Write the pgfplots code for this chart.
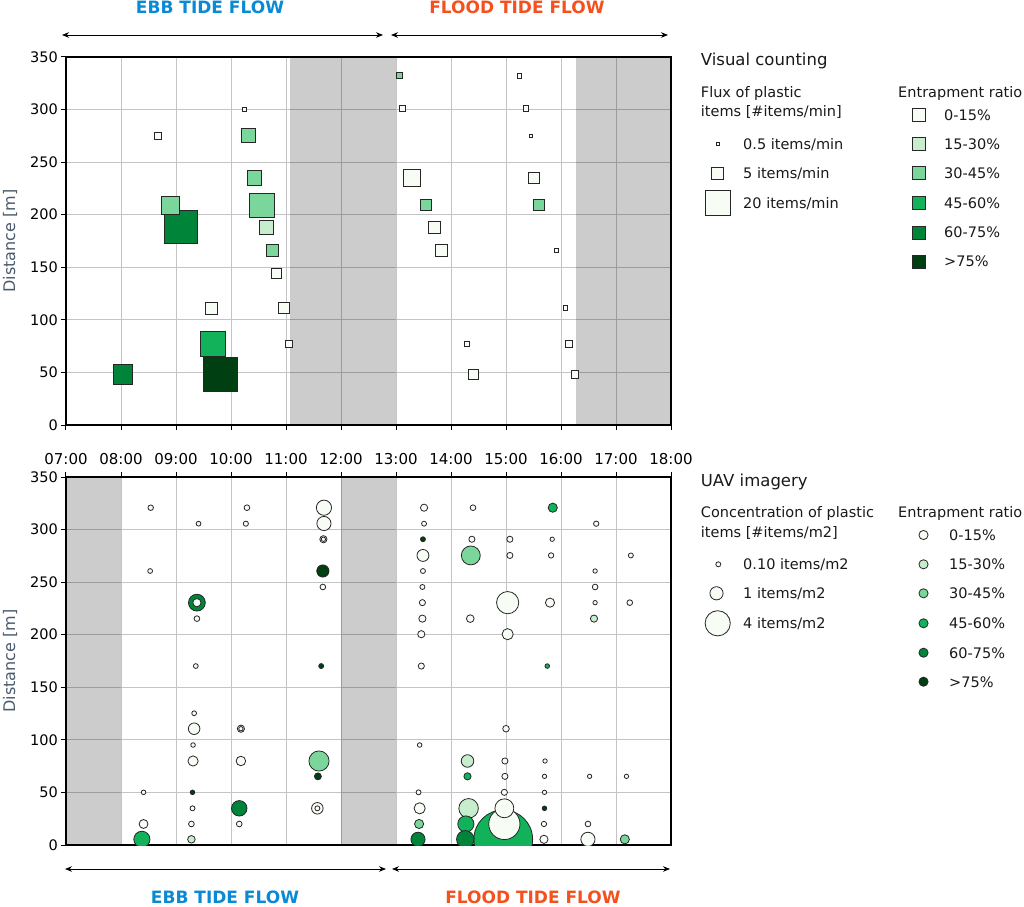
\documentclass[border=0pt]{standalone}
\usepackage{pgfplots}
\pgfplotsset{compat=1.18}
\usepackage{pgfplotstable}
\usepackage{fontspec}
\setmainfont{DejaVu Sans}
\usetikzlibrary{arrows.meta}
\definecolor{cls0}{HTML}{F7FCF5}
\definecolor{cls1}{HTML}{C7EDCC}
\definecolor{cls2}{HTML}{7BD69B}
\definecolor{cls3}{HTML}{12B25A}
\definecolor{cls4}{HTML}{00843A}
\definecolor{cls5}{HTML}{003F12}
\definecolor{ebb}{HTML}{0A8AD4}
\definecolor{flood}{HTML}{F4511E}
\definecolor{ylab}{HTML}{4A5B6E}
\definecolor{gridc}{HTML}{C4C4C4}

% Visual counting: time [h], distance [m], flux [items/min], entrapment class
\pgfplotstableread{
t d f k
10.24 300 0.5 0
8.67 275 1.7 0
10.32 275 6.5 2
10.43 235 6.5 2
9.09 188 35 4
8.90 209 10.7 2
10.56 209 19 2
10.64 188 6 1
10.76 166 4.6 2
10.82 144 3.2 0
9.64 111 4.8 0
10.97 111 3.9 0
11.05 77 1.7 0
9.81 48 38 5
9.67 77 20 3
8.04 48 12 4
13.06 332 1.1 2
13.12 301 1.4 0
15.24 332 0.6 0
15.36 301 0.9 0
15.45 275 0.3 0
13.29 235 9.6 0
15.51 235 3.4 0
13.55 209 4.1 2
15.60 209 3.6 2
13.70 188 4.3 0
13.83 166 4.3 0
15.92 166 0.5 0
16.08 111 0.7 0
14.29 77 0.9 0
16.15 77 1.7 0
14.41 48 3.4 0
16.26 48 1.7 0
}\topdata

% UAV imagery: time [h], distance [m], concentration [items/m2], entrapment class
\pgfplotstableread{
t d c k
14.95 5.4 23.0 3
8.54 320.8 0.13 0
9.41 305.6 0.09 0
10.29 320.8 0.14 0
10.27 305.6 0.11 0
11.69 320.8 1.36 0
11.69 305.8 1.17 0
11.68 290.8 0.25 0
11.68 290.8 0.07 0
8.53 260.6 0.09 0
11.67 260.6 0.84 5
11.67 245.4 0.14 0
9.38 230.5 1.70 4
9.38 230.5 0.34 0
9.38 215.3 0.14 0
9.36 170.2 0.09 0
11.64 170.2 0.10 5
9.33 125.3 0.09 0
9.33 110.6 0.74 0
10.18 110.6 0.25 0
10.18 110.6 0.07 0
9.31 95.1 0.08 0
9.31 79.9 0.56 0
10.18 79.9 0.48 0
11.60 79.9 2.50 2
11.58 65.3 0.23 5
8.41 50.1 0.08 0
9.30 50.1 0.08 5
10.15 34.9 1.42 4
11.57 34.9 0.74 0
11.57 34.9 0.10 0
9.30 34.9 0.10 0
8.41 20.0 0.41 0
10.15 20.0 0.14 0
9.28 20.0 0.14 0
8.38 5.4 1.56 3
9.28 5.4 0.28 1
13.51 320.8 0.25 0
13.51 305.6 0.10 0
13.49 290.8 0.10 5
13.49 275.4 0.80 0
13.49 260.6 0.10 0
13.48 245.4 0.10 0
13.48 230.5 0.17 0
13.48 215.3 0.25 0
13.46 200.5 0.25 0
13.46 170.2 0.17 0
13.43 95.1 0.08 0
13.41 50.1 0.10 0
13.43 34.9 0.69 0
13.42 20.0 0.44 2
13.40 5.4 1.17 4
14.40 320.8 0.14 0
14.38 290.8 0.17 0
14.36 275.4 2.18 2
14.35 215.3 0.29 0
14.30 79.9 0.89 1
14.30 65.3 0.25 3
14.32 34.9 2.33 1
14.27 20.0 1.56 3
14.26 5.4 1.85 4
15.07 290.8 0.17 0
15.07 275.4 0.17 0
15.03 230.5 3.06 0
15.03 200.5 0.69 0
15.00 110.6 0.20 0
14.98 79.9 0.17 0
14.98 65.3 0.17 0
14.97 50.1 0.17 0
14.97 20.0 6.25 0
14.97 34.9 2.18 0
15.85 320.8 0.44 3
15.84 290.8 0.07 0
15.82 275.4 0.12 0
15.80 230.5 0.44 0
15.75 170.2 0.08 3
15.71 79.9 0.07 0
15.70 65.3 0.07 0
15.70 50.1 0.07 0
15.70 34.9 0.08 5
15.69 20.0 0.12 0
15.69 5.4 0.34 0
16.64 305.6 0.12 0
16.62 260.6 0.07 0
16.62 245.4 0.14 0
16.62 230.5 0.07 0
16.60 215.3 0.25 1
16.52 65.3 0.07 0
16.49 20.0 0.14 0
16.49 5.4 1.17 0
17.27 275.4 0.10 0
17.25 230.5 0.14 0
17.19 65.3 0.07 0
17.16 5.4 0.44 2
}\botdata

% legend symbols (positions in pt of the picture)
\pgfplotstableread{
t d f k
718.0 762.0 0.5 0
717.7 732.7 5 0
717.7 702.7 20 0
919.3 791.0 5.1 0
919.3 761.7 5.1 1
919.3 732.7 5.1 2
919.3 702.7 5.1 3
919.3 673.3 5.1 4
919.3 644.3 5.1 5
}\toplegend

\pgfplotstableread{
t d c k
718.3 341.7 0.1 0
716.5 312.7 1 0
717.7 282.7 4 0
923.5 371.0 0.44 0
923.5 341.7 0.44 1
923.5 312.7 0.44 2
923.5 282.7 0.44 3
923.5 253.3 0.44 4
923.5 224.3 0.44 5
}\botlegend

\pgfplotsset{
  sqdots/.style={scatter, only marks, mark=square*,
    point meta=\thisrow{k}, point meta min=0, point meta max=5,
    visualization depends on={\thisrow{k} \as \cls},
    visualization depends on={2.8*sqrt(\thisrow{f}) \as \rr},
    scatter/@pre marker code/.code={\pgfmathtruncatemacro\ci{\cls}%
      \scope[mark size=\rr pt, fill=cls\ci, draw=black!85, line width=1pt]},
    scatter/@post marker code/.code={\endscope}},
  cidots/.style={scatter, only marks, mark=*,
    point meta=\thisrow{k}, point meta min=0, point meta max=5,
    visualization depends on={\thisrow{k} \as \cls},
    visualization depends on={0.6+6*sqrt(\thisrow{c}) \as \rr},
    scatter/@pre marker code/.code={\pgfmathtruncatemacro\ci{\cls}%
      \scope[mark size=\rr pt, fill=cls\ci, draw=black!85, line width=0.8pt]},
    scatter/@post marker code/.code={\endscope}},
  panel/.style={
    anchor=south west,
    width=605pt, height=368pt, scale only axis,
    xmin=7, xmax=18, ymin=0, ymax=350,
    xtick={7,...,18}, ytick={0,50,...,350},
    grid=major, grid style={gridc, line width=1pt},
    axis line style={line width=1.6pt, black},
    tick align=outside, major tick length=5pt,
    tick style={black, line width=1pt},
    ytick pos=left,
    /pgf/number format/assume math mode=true,
    yticklabel style={font=\fontsize{14.5}{17}\selectfont, anchor=east, inner sep=0pt, xshift=-3pt},
    ylabel={Distance [m]},
    every axis y label/.style={at={(axis description cs:-0.0925,0.5)}, rotate=90, anchor=center,
      font=\fontsize{16}{19}\selectfont, color=ylab},
    clip mode=individual, clip marker paths=true,
  },
  gray span/.style={fill=black, fill opacity=0.2, draw=none, forget plot},
}

\newcommand\lt{\fontsize{14.5}{17}\selectfont}

\begin{document}
\begin{tikzpicture}
\useasboundingbox (0,0) rectangle (1024pt,906pt);

% ---------- top panel: visual counting ----------
\begin{axis}[panel, at={(66pt,481pt)},
  xtick pos=bottom,
  xticklabels={07:00,08:00,09:00,10:00,11:00,12:00,13:00,14:00,15:00,16:00,17:00,18:00},
  xticklabel style={font=\fontsize{15}{18}\selectfont, anchor=base, inner sep=0pt, yshift=-34pt},
]
\addplot[gray span] coordinates {(11.08,350) (13,350)} \closedcycle;
\addplot[gray span] coordinates {(16.27,350) (18,350)} \closedcycle;
\addplot[sqdots] table[x=t, y=d] {\topdata};
\end{axis}

% ---------- bottom panel: UAV imagery ----------
\begin{axis}[panel, at={(66pt,61pt)},
  xtick pos=top, xticklabels={},
]
\addplot[gray span] coordinates {(7,350) (8,350)} \closedcycle;
\addplot[gray span] coordinates {(12,350) (13,350)} \closedcycle;
\addplot[cidots] table[x=t, y=d] {\botdata};
\end{axis}

% ---------- legends and annotations (1 unit = 1pt) ----------
\begin{axis}[at={(0pt,0pt)}, anchor=south west, width=1024pt, height=906pt, scale only axis,
  hide axis, clip=false, xmin=0, xmax=1024, ymin=0, ymax=906]
\addplot[sqdots] table[x=t, y=d] {\toplegend};
\addplot[cidots] table[x=t, y=d] {\botlegend};

\begin{scope}[every node/.style={inner sep=0pt, anchor=base west, text=black!90}]
\node[font=\fontsize{16.5}{20}\selectfont] at (axis cs:700.7,840) {Visual counting};
\node[font=\lt] at (axis cs:700.7,808.5) {Flux of plastic};
\node[font=\lt] at (axis cs:700.7,789) {items [\#items/min]};
\node[font=\lt] at (axis cs:743,756.7) {0.5 items/min};
\node[font=\lt] at (axis cs:743,727.4) {5 items/min};
\node[font=\lt] at (axis cs:743,697.4) {20 items/min};
\node[font=\lt] at (axis cs:898,808.5) {Entrapment ratio};
\node[font=\lt] at (axis cs:944,785.7) {0-15\%};
\node[font=\lt] at (axis cs:944,756.4) {15-30\%};
\node[font=\lt] at (axis cs:944,727.4) {30-45\%};
\node[font=\lt] at (axis cs:944,697.4) {45-60\%};
\node[font=\lt] at (axis cs:944,668.0) {60-75\%};
\node[font=\lt] at (axis cs:944,639.0) {>75\%};

\node[font=\fontsize{16.5}{20}\selectfont] at (axis cs:700.7,420) {UAV imagery};
\node[font=\lt] at (axis cs:700.7,388.5) {Concentration of plastic};
\node[font=\lt] at (axis cs:700.7,369) {items [\#items/m2]};
\node[font=\lt] at (axis cs:743,336.4) {0.10 items/m2};
\node[font=\lt] at (axis cs:743,307.4) {1 items/m2};
\node[font=\lt] at (axis cs:743,277.4) {4 items/m2};
\node[font=\lt] at (axis cs:898,388.5) {Entrapment ratio};
\node[font=\lt] at (axis cs:949,365.7) {0-15\%};
\node[font=\lt] at (axis cs:949,336.4) {15-30\%};
\node[font=\lt] at (axis cs:949,307.4) {30-45\%};
\node[font=\lt] at (axis cs:949,277.4) {45-60\%};
\node[font=\lt] at (axis cs:949,248.0) {60-75\%};
\node[font=\lt] at (axis cs:949,219.0) {>75\%};
\end{scope}

\begin{scope}[every node/.style={inner sep=0pt, anchor=base, font=\fontsize{17}{20}\selectfont\bfseries}]
\node[text=ebb] at (axis cs:210,892) {EBB TIDE FLOW};
\node[text=flood] at (axis cs:517,892) {FLOOD TIDE FLOW};
\node[text=ebb] at (axis cs:225,3) {EBB TIDE FLOW};
\node[text=flood] at (axis cs:533,3) {FLOOD TIDE FLOW};
\end{scope}

\begin{scope}[line width=0.8pt, {Stealth[length=7pt,width=5.5pt]}-{Stealth[length=7pt,width=5.5pt]}]
\draw (axis cs:62,871) -- (axis cs:383,871);
\draw (axis cs:391,871) -- (axis cs:668,871);
\draw (axis cs:65,37) -- (axis cs:386,37);
\draw (axis cs:392,37) -- (axis cs:670,37);
\end{scope}
\end{axis}
\end{tikzpicture}
\end{document}
